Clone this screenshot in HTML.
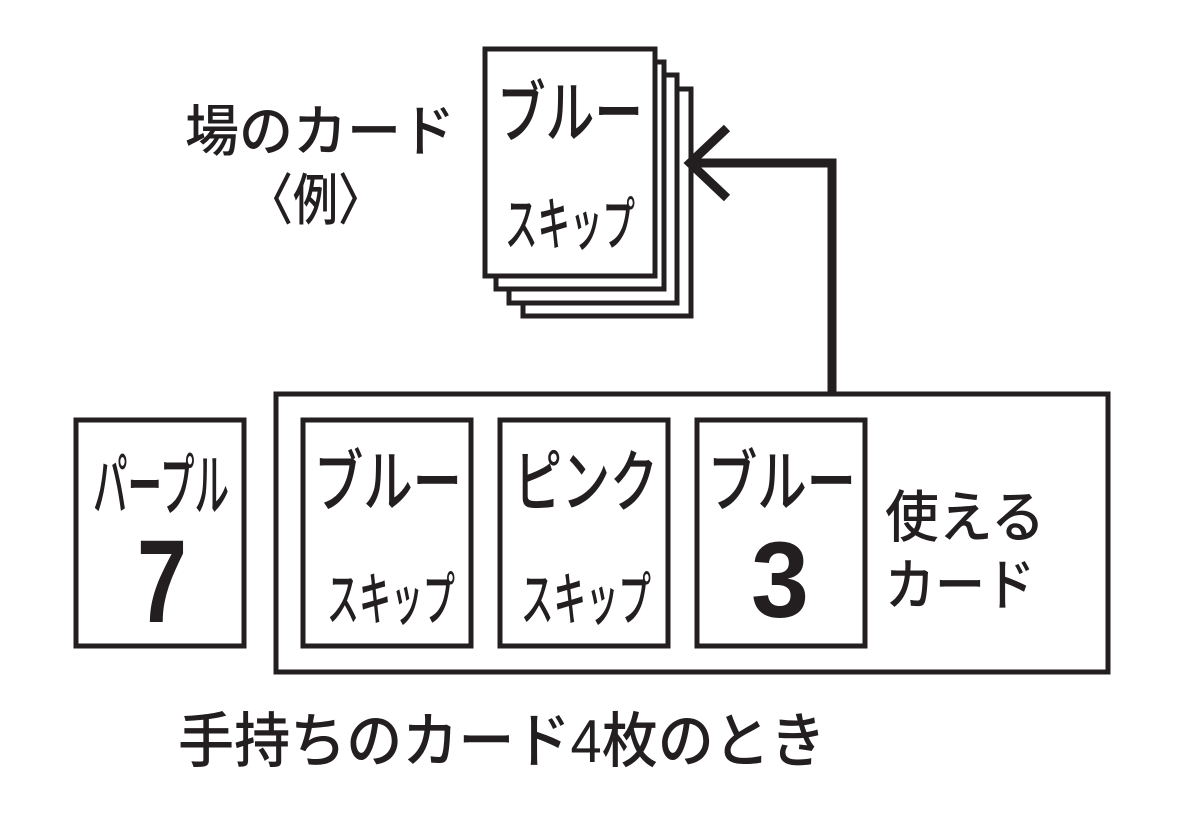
<!DOCTYPE html>
<html><head><meta charset="utf-8"><style>
html,body{margin:0;padding:0;background:#fff;}
svg{display:block;}
text{font-family:"Liberation Sans","Noto Sans CJK JP",sans-serif;fill:#231f20;font-weight:500;}
</style></head><body>
<svg width="1179" height="813" viewBox="0 0 1179 813" xmlns="http://www.w3.org/2000/svg">
<g fill="#fff" stroke="#231f20" stroke-width="5">
<rect x="523" y="89" width="168" height="227"/>
<rect x="509" y="75" width="168" height="228"/>
<rect x="496" y="62" width="168" height="227"/>
<rect x="485" y="49" width="170" height="227"/>
<rect x="276" y="394" width="832" height="278"/>
<rect x="76" y="420" width="168" height="226"/>
<rect x="303" y="420" width="168" height="226"/>
<rect x="500" y="420" width="168" height="226"/>
<rect x="697" y="420" width="168" height="226"/>
</g>
<g fill="none" stroke="#231f20" stroke-width="9">
<polyline points="832,392 832,163 690,163"/>
<polyline points="727,128 690,163 727,198" stroke-linejoin="miter"/>
</g>
<g font-size="68">
<text x="497" y="137" textLength="146" lengthAdjust="spacingAndGlyphs">ブルー</text>
<text x="314" y="506" textLength="148" lengthAdjust="spacingAndGlyphs">ブルー</text>
<text x="514" y="506" textLength="144" lengthAdjust="spacingAndGlyphs">ピンク</text>
<text x="708" y="506" textLength="148" lengthAdjust="spacingAndGlyphs">ブルー</text>
<text x="93" y="510" textLength="136" lengthAdjust="spacingAndGlyphs">パープル</text>
</g>
<g font-size="58">
<text x="505" y="245" textLength="130" lengthAdjust="spacingAndGlyphs">スキップ</text>
<text x="327" y="620" textLength="128" lengthAdjust="spacingAndGlyphs">スキップ</text>
<text x="521" y="620" textLength="130" lengthAdjust="spacingAndGlyphs">スキップ</text>
</g>
<text x="137" y="622" font-size="118" style="font-weight:bold" textLength="50" lengthAdjust="spacingAndGlyphs">7</text>
<text x="751" y="617" font-size="108" style="font-weight:bold" textLength="58" lengthAdjust="spacingAndGlyphs">3</text>
<g font-size="56">
<text x="185" y="151" textLength="270" lengthAdjust="spacingAndGlyphs">場のカード</text>
<text x="248" y="220" textLength="135" lengthAdjust="spacingAndGlyphs">〈例〉</text>
<text x="885" y="537" textLength="160" lengthAdjust="spacingAndGlyphs">使える</text>
<text x="885" y="605" textLength="150" lengthAdjust="spacingAndGlyphs">カード</text>
<text x="178" y="762" font-size="60" textLength="648" lengthAdjust="spacingAndGlyphs">手持ちのカード4枚のとき</text>
</g>
</svg>
</body></html>
